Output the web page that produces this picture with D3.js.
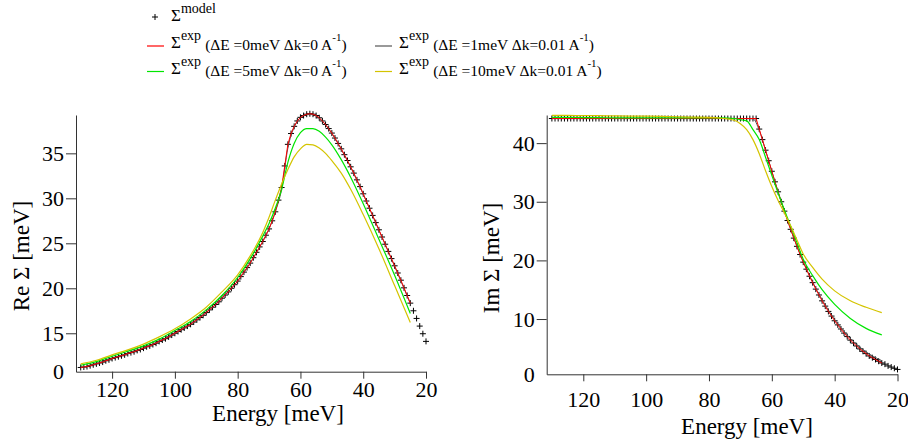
<!DOCTYPE html>
<html>
<head>
<meta charset="utf-8">
<script src="https://d3js.org/d3.v7.min.js"></script>
</head>
<body style="margin:0; background:#fff">
<div id="chart-area"></div>
<script>
// energies of the model points (meV), one per marker
var modelEnergy = [
    130,129,128,127,126,125,124,123,122,121,
    120,119,118,117,116,115,114,113,112,111,
    110,109,108,107,106,105,104,103,102,101,
    100,99,98,97,96,95,94,93,92,91,
    90,89,88,87,86,85,84,83,82,81,
    80,79,78,77,76,75,74,73,72,71,
    70,69,68,67,66,65,64,63,62,61,
    60,59,58,57,56,55,54,53,52,51,
    50,49,48,47,46,45,44,43,42,41,
    40,39,38,37,36,35,34,33,32,31,
    30,29,28,27,26,25,24,23,22,21,
    20];

// Re Sigma model
var modelRe = [
    11.2,11.25,11.3,11.4,11.5,11.6,11.7,11.8,11.95,12.05,
    12.2,12.3,12.4,12.5,12.6,12.75,12.85,12.95,13.1,13.2,
    13.35,13.5,13.6,13.75,13.9,14.1,14.25,14.4,14.6,14.8,
    15.0,15.2,15.4,15.6,15.8,16.0,16.25,16.5,16.75,17.0,
    17.3,17.6,17.9,18.2,18.5,18.9,19.25,19.6,20.0,20.4,
    20.8,21.3,21.8,22.3,22.8,23.4,24.0,24.6,25.2,25.9,
    26.6,27.5,28.5,29.8,31.2,33.6,36.0,37.2,38.0,38.6,
    39.0,39.2,39.35,39.4,39.35,39.2,38.95,38.6,38.2,37.75,
    37.25,36.7,36.1,35.5,34.85,34.2,33.5,32.8,32.05,31.3,
    30.5,29.7,28.9,28.1,27.3,26.5,25.7,24.9,24.1,23.3,
    22.5,21.7,20.9,20.05,19.2,18.35,17.5,16.65,15.8,14.95,
    14.1];

// Im Sigma model
var modelIm = [
    44.2,44.2,44.2,44.2,44.2,44.2,44.2,44.2,44.2,44.2,
    44.2,44.2,44.2,44.2,44.2,44.2,44.2,44.2,44.2,44.2,
    44.2,44.2,44.2,44.2,44.2,44.2,44.2,44.2,44.2,44.2,
    44.2,44.2,44.2,44.2,44.2,44.2,44.2,44.2,44.2,44.2,
    44.2,44.2,44.2,44.2,44.2,44.2,44.2,44.2,44.2,44.2,
    44.2,44.2,44.2,44.2,44.2,44.2,44.2,44.2,44.2,44.2,
    44.2,44.2,44.2,44.2,44.2,44.2,42.4,40.6,38.8,37.0,
    35.2,33.4,31.7,30.0,28.4,26.8,25.3,23.8,22.4,21.0,
    19.7,18.5,17.3,16.2,15.1,14.1,13.1,12.2,11.3,10.5,
    9.7,9.0,8.3,7.6,7.0,6.4,5.9,5.4,4.9,4.5,
    4.1,3.7,3.4,3.1,2.8,2.5,2.3,2.0,1.8,1.6,
    1.4];

// energies of the broadened (exp) curves
var lineEnergy = [130,125,120,115,110,105,100,95,90,85,80,76,72,70,68,66,64,62,60,58,56,54,52,50,47,44,40,35,30,25];

var reGray = [11.2,11.6,12.2,12.75,13.35,14.1,15.0,16.0,17.3,18.9,20.8,22.8,25.2,26.6,28.5,31.0,35.6,37.9,38.95,39.3,39.3,38.9,38.15,37.2,35.45,33.45,30.45,26.45,22.45,18.3];
var reGreen = [11.45,11.85,12.45,13.0,13.6,14.35,15.3,16.3,17.6,19.2,21.2,23.3,25.8,27.2,28.9,31.0,34.0,36.1,37.3,37.75,37.75,37.45,36.8,35.95,34.3,32.35,29.4,25.45,21.45,17.2];
var reYellow = [11.6,12.0,12.6,13.15,13.8,14.6,15.5,16.6,17.9,19.6,21.5,23.6,26.2,27.9,29.8,31.6,33.2,34.6,35.5,36.0,35.95,35.6,35.0,34.2,32.8,31.0,28.2,24.4,20.3,16.2];

var imGray = [44.2,44.2,44.2,44.2,44.2,44.2,44.2,44.2,44.2,44.2,44.2,44.2,44.2,44.2,44.2,44.15,42.2,38.8,35.2,31.7,28.4,25.3,22.4,19.8,16.3,13.3,9.9,6.7,4.4,2.9];
var imGreen = [44.4,44.38,44.36,44.34,44.32,44.3,44.3,44.3,44.3,44.3,44.3,44.3,44.2,44.0,43.8,42.3,40.6,37.6,34.5,31.5,28.6,25.8,23.0,20.2,17.4,15.0,12.5,10.1,8.4,7.3];
var imYellow = [44.75,44.72,44.7,44.68,44.65,44.62,44.6,44.55,44.5,44.45,44.4,44.25,43.9,43.3,42.3,40.6,38.2,35.3,32.6,30.2,28.1,25.9,23.5,21.1,18.8,16.8,14.8,13.1,12.0,11.1];

var energyTicks = [120,100,80,60,40,20];
var reTicks = [15,20,25,30,35];
var imTicks = [10,20,30,40];

var colRed = "#ff0000", colGray = "#555555", colGreen = "#00e600", colYellow = "#d4c400";
var serif = "Liberation Serif";

var svg = d3.select("#chart-area").append("svg")
    .attr("width", 908)
    .attr("height", 443);

function pts(xs, ys) {
    return xs.map(function(e, i) { return {e: e, v: ys[i]}; });
}

function drawPanel(p) {
    var x = d3.scaleLinear().domain(p.xDomain).range(p.xRange);
    var y = d3.scaleLinear().domain(p.yDomain).range(p.yRange);
    var g = svg.append("g");

    var smooth = d3.line()
        .x(function(d) { return x(d.e); })
        .y(function(d) { return y(d.v); })
        .curve(d3.curveMonotoneX);
    var straight = d3.line()
        .x(function(d) { return x(d.e); })
        .y(function(d) { return y(d.v); });

    var model = pts(modelEnergy, p.model);

    // + markers for the model
    g.selectAll("path.marker")
        .data(model)
        .enter()
        .append("path")
        .attr("class", "marker")
        .attr("d", "M-3,0H3M0,-3V3")
        .attr("transform", function(d) { return "translate(" + x(d.e) + "," + y(d.v) + ")"; })
        .attr("stroke", "#000")
        .attr("stroke-width", 1)
        .attr("fill", "none");

    // exp curves
    g.append("path").attr("d", smooth(pts(lineEnergy, p.gray)))
        .attr("fill", "none").attr("stroke", colGray).attr("stroke-width", 1);
    g.append("path").attr("d", straight(model.filter(function(d) { return d.e >= 25; })))
        .attr("fill", "none").attr("stroke", colRed).attr("stroke-width", 1);
    g.append("path").attr("d", smooth(pts(lineEnergy, p.green)))
        .attr("fill", "none").attr("stroke", colGreen).attr("stroke-width", 1.2);
    g.append("path").attr("d", smooth(pts(lineEnergy, p.yellow)))
        .attr("fill", "none").attr("stroke", colYellow).attr("stroke-width", 1.2);

    // x axis
    var xa = g.append("g")
        .attr("transform", "translate(0," + p.yRange[0] + ")")
        .call(d3.axisBottom(x).tickValues(energyTicks).tickSize(7).tickSizeOuter(0).tickPadding(p.xPad));
    // y axis, lowest label sits at the axis corner
    var ya = g.append("g")
        .attr("transform", "translate(" + p.xRange[0] + ",0)")
        .call(d3.axisLeft(y).tickValues([p.yDomain[0]].concat(p.yTicks))
            .tickFormat(function(d) { return d === p.yDomain[0] ? "0" : d; })
            .tickSize(10).tickSizeOuter(0).tickPadding(2));
    ya.selectAll(".tick").filter(function(d) { return d === p.yDomain[0]; })
        .select("line").remove();

    [xa, ya].forEach(function(a) {
        a.select(".domain").attr("stroke", "#333");
        a.selectAll(".tick line").attr("stroke", "#333");
        a.selectAll(".tick text").attr("fill", "#000").attr("font-size", 22);
    });

    g.append("text")
        .attr("x", p.xTitle[0]).attr("y", p.xTitle[1])
        .attr("text-anchor", "middle")
        .attr("font-size", 23)
        .text("Energy [meV]");
    g.append("text")
        .attr("transform", "translate(" + p.yTitle[0] + "," + p.yTitle[1] + ") rotate(-90)")
        .attr("text-anchor", "middle")
        .attr("font-size", 23)
        .text(p.yLabel);
}

drawPanel({
    xDomain: [131.5, 20], xRange: [76, 426],
    yDomain: [10.73, 39.26], yRange: [371.7, 115],
    yTicks: reTicks, xPad: 3,
    model: modelRe, gray: reGray, green: reGreen, yellow: reYellow,
    xTitle: [278, 421], yTitle: [29, 256], yLabel: "Re \u03A3 [meV]"
});

drawPanel({
    xDomain: [131.65, 20], xRange: [546.7, 897.5],
    yDomain: [0.57, 44.8], yRange: [374.3, 115],
    yTicks: imTicks, xPad: 10,
    model: modelIm, gray: imGray, green: imGreen, yellow: imYellow,
    xTitle: [747, 434], yTitle: [499, 258], yLabel: "Im \u03A3 [meV]"
});

// legend
var legend = svg.append("g");
legend.append("path")
    .attr("d", "M-3,0H3M0,-3V3")
    .attr("transform", "translate(155,17)")
    .attr("stroke", "#000").attr("fill", "none");
var t0 = legend.append("text").attr("x", 171).attr("y", 21);
t0.append("tspan").attr("font-size", 17).text("\u03A3");
t0.append("tspan").attr("font-size", 14).attr("dy", -8).text("model");

var items = [
    {c: colRed, x: 147, y: 46, label: "(\u0394E =0meV \u0394k=0 A"},
    {c: colGray, x: 375, y: 46, label: "(\u0394E =1meV \u0394k=0.01 A"},
    {c: colGreen, x: 147, y: 71.5, label: "(\u0394E =5meV \u0394k=0 A"},
    {c: colYellow, x: 375, y: 71.5, label: "(\u0394E =10meV \u0394k=0.01 A"}
];
items.forEach(function(d) {
    legend.append("line")
        .attr("x1", d.x).attr("x2", d.x + 17)
        .attr("y1", d.y).attr("y2", d.y)
        .attr("stroke", d.c).attr("stroke-width", 1.2);
    var t = legend.append("text").attr("x", d.x + 24).attr("y", d.y + 2);
    t.append("tspan").attr("font-size", 17).text("\u03A3");
    t.append("tspan").attr("font-size", 14).attr("dy", -8).text("exp");
    t.append("tspan").attr("font-size", 15.5).attr("dx", 4).attr("dy", 10).text(d.label);
    t.append("tspan").attr("font-size", 11).attr("dy", -9).text("-1");
    t.append("tspan").attr("font-size", 15.5).attr("dy", 9).text(")");
});

// serif face set on every text node itself, then force a text layout pass
svg.selectAll("text, tspan").attr("font-family", serif);
svg.selectAll("text").each(function() { this.getComputedTextLength(); });
</script>
</body>
</html>
